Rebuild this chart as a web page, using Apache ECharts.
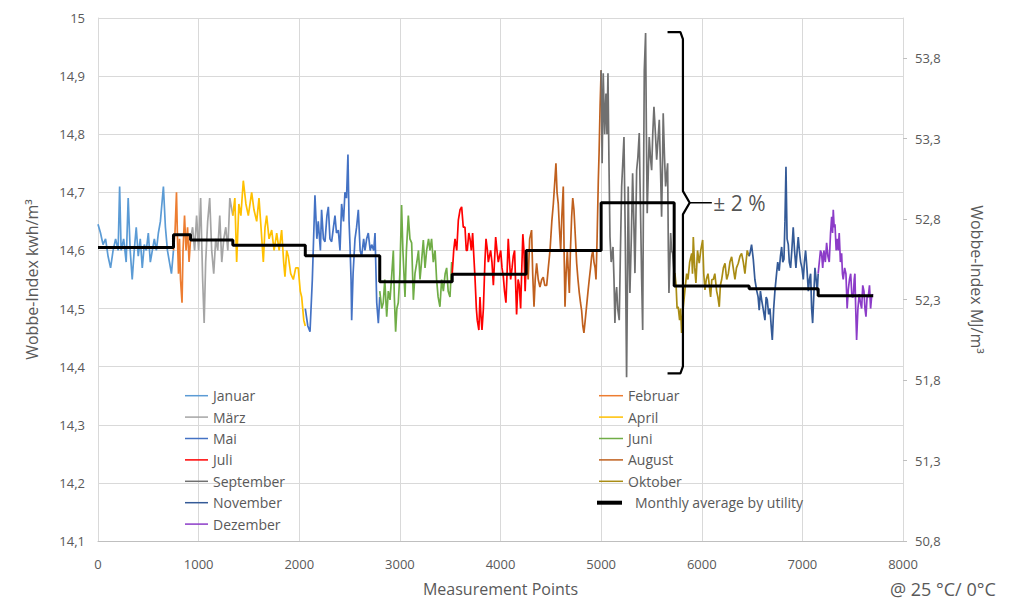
<!DOCTYPE html>
<html>
<head>
<meta charset="utf-8">
<script src="https://cdn.jsdelivr.net/npm/echarts@6/dist/echarts.min.js"></script>
<style>html,body{margin:0;padding:0;background:#fff;}#c{width:1033px;height:605px;}</style>
</head>
<body>
<div id="c"></div>
<script>
// ---- DATA ----
const monthNames = ['Januar','Februar','März','April','Mai','Juni','Juli','August','September','Oktober','November','Dezember'];
const monthColors = ['#5b9bd5','#ed7d31','#a5a5a5','#ffc000','#4472c4','#70ad47','#ff0000','#c0601e','#707070','#a98c14','#345a97','#8c3cc8'];

const jan = [[0,14.645],[25,14.63],[50,14.61],[75,14.62],[100,14.59],[125,14.57],[150,14.6],[175,14.62],[200,14.6],[215,14.71],[230,14.6],[255,14.62],[280,14.58],[300,14.69],[320,14.6],[340,14.55],[360,14.6],[380,14.64],[400,14.59],[420,14.62],[440,14.57],[460,14.61],[480,14.6],[500,14.63],[520,14.58],[540,14.6],[560,14.62],[580,14.6],[600,14.63],[620,14.65],[650,14.71],[670,14.64],[690,14.6],[710,14.58],[730,14.56],[750,14.6]];
const feb = [[750,14.6],[765,14.63],[780,14.7],[790,14.62],[800,14.56],[810,14.62],[820,14.55],[835,14.51],[845,14.6],[860,14.66],[875,14.6],[890,14.64],[905,14.58],[920,14.62]];
const mar = [[920,14.62],[940,14.64],[960,14.6],[980,14.66],[1000,14.6],[1020,14.69],[1040,14.55],[1055,14.475],[1070,14.58],[1090,14.65],[1110,14.69],[1130,14.6],[1150,14.56],[1170,14.62],[1190,14.6],[1210,14.66],[1230,14.58],[1250,14.62],[1270,14.64],[1290,14.6],[1310,14.69],[1340,14.66]];
const apr = [[1340,14.66],[1360,14.69],[1378,14.58],[1400,14.68],[1420,14.66],[1444,14.72],[1470,14.68],[1494,14.66],[1527,14.70],[1550,14.67],[1577,14.65],[1600,14.69],[1620,14.64],[1643,14.58],[1660,14.64],[1676,14.66],[1700,14.62],[1726,14.635],[1750,14.6],[1776,14.63],[1800,14.6],[1825,14.635],[1845,14.58],[1858,14.555],[1875,14.6],[1891,14.59],[1915,14.56],[1941,14.55],[1965,14.57],[1990,14.57],[2010,14.53],[2024,14.52],[2045,14.48],[2060,14.47]];
const mai = [[2060,14.5],[2085,14.47],[2107,14.46],[2130,14.55],[2156,14.695],[2175,14.62],[2189,14.65],[2210,14.6],[2222,14.67],[2240,14.62],[2256,14.615],[2275,14.66],[2289,14.675],[2305,14.62],[2322,14.615],[2340,14.64],[2355,14.66],[2370,14.63],[2388,14.635],[2405,14.6],[2421,14.68],[2440,14.65],[2454,14.70],[2470,14.69],[2484,14.765],[2495,14.65],[2504,14.61],[2515,14.55],[2521,14.48],[2535,14.56],[2554,14.62],[2570,14.64],[2587,14.67],[2605,14.6],[2620,14.59],[2640,14.62],[2653,14.6],[2670,14.62],[2686,14.63],[2705,14.6],[2720,14.61],[2740,14.6],[2753,14.63],[2770,14.51],[2786,14.475],[2800,14.52]];
const jun = [[2800,14.53],[2820,14.5],[2835,14.51],[2850,14.55],[2869,14.486],[2885,14.53],[2902,14.515],[2920,14.56],[2935,14.6],[2945,14.52],[2958,14.46],[2970,14.5],[2984,14.51],[3000,14.56],[3017,14.678],[3030,14.6],[3051,14.52],[3065,14.6],[3084,14.66],[3100,14.62],[3117,14.613],[3134,14.515],[3150,14.56],[3167,14.578],[3185,14.6],[3200,14.55],[3215,14.58],[3233,14.618],[3250,14.57],[3266,14.6],[3285,14.62],[3299,14.6],[3315,14.62],[3332,14.58],[3350,14.6],[3365,14.55],[3380,14.52],[3398,14.503],[3415,14.55],[3432,14.53],[3450,14.56],[3465,14.57],[3480,14.53],[3498,14.52],[3515,14.58]];
const jul = [[3520,14.56],[3535,14.6],[3548,14.62],[3565,14.6],[3581,14.652],[3598,14.67],[3614,14.675],[3630,14.64],[3647,14.64],[3660,14.6],[3670,14.6],[3685,14.63],[3697,14.62],[3710,14.6],[3723,14.63],[3735,14.59],[3746,14.555],[3760,14.5],[3769,14.48],[3785,14.463],[3796,14.52],[3805,14.49],[3816,14.463],[3830,14.5],[3845,14.58],[3856,14.62],[3870,14.6],[3879,14.58],[3890,14.59],[3902,14.6],[3915,14.58],[3929,14.54],[3940,14.58],[3952,14.623],[3965,14.6],[3978,14.58],[3990,14.59],[4002,14.6],[4015,14.57],[4028,14.555],[4040,14.53],[4054,14.51],[4065,14.56],[4077,14.62],[4090,14.58],[4101,14.55],[4115,14.57],[4127,14.59],[4140,14.6],[4160,14.49],[4175,14.55],[4187,14.54],[4200,14.5],[4210,14.56],[4222,14.628],[4233,14.6],[4245,14.53],[4255,14.58]];
const aug = [[4255,14.6],[4275,14.55],[4290,14.62],[4309,14.635],[4320,14.56],[4333,14.503],[4345,14.55],[4359,14.578],[4375,14.55],[4392,14.537],[4410,14.55],[4425,14.554],[4440,14.54],[4459,14.54],[4475,14.57],[4492,14.6],[4510,14.65],[4525,14.68],[4540,14.72],[4551,14.75],[4562,14.7],[4574,14.68],[4585,14.64],[4598,14.6],[4610,14.66],[4624,14.71],[4632,14.6],[4641,14.503],[4652,14.56],[4664,14.6],[4675,14.56],[4684,14.527],[4695,14.6],[4707,14.658],[4718,14.69],[4730,14.67],[4745,14.62],[4757,14.578],[4770,14.55],[4783,14.527],[4795,14.51],[4806,14.497],[4818,14.47],[4829,14.458],[4842,14.48],[4856,14.505],[4870,14.53],[4882,14.55],[4895,14.57],[4906,14.59],[4918,14.6],[4929,14.58],[4940,14.57],[4949,14.55],[4960,14.62],[4972,14.72],[4980,14.77],[4990,14.85],[5000,14.91]];
const sep = [[5000,14.91],[5010,14.75],[5021,14.905],[5035,14.8],[5048,14.87],[5058,14.8],[5068,14.905],[5078,14.75],[5088,14.623],[5100,14.58],[5118,14.606],[5128,14.55],[5137,14.475],[5145,14.52],[5154,14.537],[5165,14.5],[5180,14.48],[5192,14.6],[5204,14.71],[5215,14.75],[5227,14.795],[5240,14.623],[5253,14.382],[5262,14.55],[5269,14.71],[5278,14.6],[5286,14.527],[5300,14.62],[5313,14.733],[5325,14.65],[5336,14.561],[5345,14.65],[5353,14.738],[5365,14.76],[5379,14.802],[5386,14.72],[5393,14.652],[5403,14.55],[5413,14.463],[5421,14.7],[5429,14.91],[5442,14.974],[5450,14.8],[5458,14.664],[5468,14.73],[5478,14.795],[5490,14.76],[5502,14.738],[5513,14.8],[5525,14.847],[5540,14.8],[5552,14.756],[5565,14.79],[5578,14.825],[5590,14.74],[5601,14.658],[5610,14.75],[5617,14.836],[5630,14.76],[5641,14.71],[5651,14.73],[5661,14.75],[5668,14.6],[5674,14.527],[5683,14.58],[5691,14.63],[5700,14.6],[5711,14.595],[5726,14.56]];
const okt = [[5726,14.56],[5733,14.561],[5745,14.54],[5755,14.5],[5766,14.503],[5780,14.48],[5790,14.5],[5800,14.458],[5815,14.5],[5833,14.532],[5850,14.56],[5863,14.55],[5880,14.58],[5900,14.595],[5908,14.56],[5916,14.623],[5930,14.57],[5942,14.544],[5958,14.6],[5975,14.578],[5990,14.6],[6009,14.618],[6020,14.56],[6032,14.532],[6045,14.55],[6062,14.56],[6075,14.54],[6088,14.52],[6100,14.55],[6115,14.55],[6130,14.56],[6148,14.53],[6160,14.52],[6174,14.503],[6185,14.54],[6198,14.55],[6215,14.57],[6231,14.578],[6248,14.55],[6264,14.56],[6280,14.58],[6297,14.589],[6313,14.57],[6330,14.55],[6345,14.57],[6363,14.578],[6380,14.59],[6396,14.595],[6413,14.58],[6429,14.56],[6440,14.58],[6452,14.6],[6471,14.59]];
const nov = [[6471,14.59],[6479,14.595],[6495,14.61],[6512,14.585],[6528,14.55],[6545,14.532],[6560,14.52],[6571,14.497],[6583,14.53],[6595,14.515],[6610,14.5],[6628,14.48],[6640,14.52],[6651,14.515],[6665,14.49],[6678,14.5],[6690,14.47],[6701,14.446],[6715,14.5],[6727,14.53],[6744,14.561],[6755,14.58],[6770,14.565],[6782,14.59],[6794,14.606],[6805,14.58],[6817,14.585],[6827,14.65],[6837,14.744],[6848,14.62],[6860,14.61],[6870,14.58],[6883,14.57],[6895,14.6],[6909,14.64],[6922,14.6],[6936,14.57],[6948,14.6],[6959,14.623],[6970,14.6],[6983,14.58],[6996,14.57],[7009,14.55],[7020,14.58],[7032,14.6],[7045,14.57],[7059,14.53],[7070,14.55],[7082,14.56],[7092,14.5],[7102,14.475],[7113,14.52],[7125,14.57],[7137,14.55],[7148,14.53],[7157,14.56]];
const dez = [[7157,14.56],[7167,14.578],[7180,14.6],[7191,14.595],[7202,14.57],[7214,14.6],[7228,14.58],[7241,14.613],[7254,14.59],[7267,14.58],[7280,14.63],[7291,14.658],[7300,14.63],[7307,14.67],[7316,14.64],[7324,14.645],[7336,14.6],[7347,14.62],[7356,14.6],[7366,14.63],[7378,14.58],[7390,14.595],[7398,14.56],[7406,14.55],[7420,14.57],[7433,14.56],[7445,14.5],[7456,14.532],[7468,14.55],[7480,14.56],[7493,14.52],[7506,14.52],[7515,14.55],[7522,14.56],[7530,14.5],[7539,14.446],[7552,14.5],[7565,14.525],[7577,14.51],[7589,14.5],[7600,14.54],[7612,14.53],[7622,14.5],[7632,14.486],[7643,14.52],[7655,14.52],[7667,14.54],[7678,14.5],[7688,14.52],[7698,14.525]];
const monthData = [jan,feb,mar,apr,mai,jun,jul,aug,sep,okt,nov,dez];

// monthly average by utility: start point of each month and its level
const avgStarts = [0,750,920,1340,2060,2800,3520,4255,5000,5726,6471,7157];
const avgEnd = 7704;
const avgValues = [14.605,14.627,14.618,14.609,14.591,14.546,14.559,14.600,14.682,14.539,14.534,14.522];
const avgName = 'Monthly average by utility';

// ±2 % band around the September average
const bandPct = 0.02;
const bandMonth = 8;
const bracketX = 5813, bracketHookX = 5660, bracketTipX = 5880, bracketLabelX = 6110;

const xTicks = {min:0, max:8000, interval:1000};
const yLeft = {min:14.1, max:15, interval:0.1};
const yRight = {min:50.8, max:54.05, interval:0.5};

// ---- CHART ----
const fmt = v => String(Math.round(v*10)/10).replace('.', ',');
const FONT = '"Open Sans", "Noto Sans", sans-serif';
const TXT = '#595959';

const series = monthNames.map((n,i)=>({
  name:n, type:'line', data:monthData[i], showSymbol:false, symbol:'none',
  color:monthColors[i], lineStyle:{width:1.7, color:monthColors[i]}, z:2, animation:false
}));
const avgData = avgStarts.map((s,i)=>[s,avgValues[i]]).concat([[avgEnd, avgValues[avgValues.length-1]]]);
series.push({name:avgName, type:'line', step:'end', data:avgData, symbol:'none', showSymbol:false,
  color:'#000', lineStyle:{width:3, color:'#000'}, z:5, animation:false});

const bandMid = avgValues[bandMonth], bandTop = bandMid*(1+bandPct), bandBot = bandMid*(1-bandPct);
series.push({name:'bracket', type:'line', symbol:'none', showSymbol:false, z:6, animation:false, silent:true,
  lineStyle:{width:2.2, color:'#000'}, color:'#000',
  data:[[bracketHookX,bandTop],[bracketX-25,bandTop],[bracketX,bandTop-0.012],[bracketX,bandMid+0.02],[bracketTipX,bandMid],[bracketX,bandMid-0.02],[bracketX,bandBot+0.012],[bracketX-25,bandBot],[bracketHookX,bandBot]]});
series.push({name:'tick', type:'line', symbol:'none', z:6, animation:false, silent:true,
  lineStyle:{width:1.5, color:'#000'}, color:'#000', data:[[bracketTipX,bandMid],[bracketLabelX-10,bandMid]]});
series.push({name:'label', type:'scatter', symbolSize:1, itemStyle:{color:'rgba(0,0,0,0)'}, z:6, animation:false, silent:true,
  data:[[bracketLabelX,bandMid]],
  label:{show:true, position:'right', distance:0, formatter:'± 2 %', fontSize:21, color:'#262626', fontFamily:FONT}});

const leftNames = ['Januar','März','Mai','Juli','September','November','Dezember'];
const rightNames = ['Februar','April','Juni','August','Oktober'];
const legendCommon = {orient:'vertical', icon:'rect', itemGap:0, selectedMode:false,
  textStyle:{fontSize:14, color:TXT, fontFamily:FONT, lineHeight:21.4}};

const chart = echarts.init(document.getElementById('c'), null, {renderer:'svg'});
chart.setOption({
  backgroundColor:'#fff',
  animation:false,
  textStyle:{fontFamily:FONT},
  grid:{left:98, right:130, top:18, bottom:64, containLabel:false},
  legend:[
    Object.assign({}, legendCommon, {data:leftNames, left:180, top:380, itemWidth:23, itemHeight:1.5}),
    Object.assign({}, legendCommon, {data:rightNames, left:594, top:380, itemWidth:24, itemHeight:1.5}),
    Object.assign({}, legendCommon, {data:[avgName], left:592, top:487, itemWidth:25, itemHeight:4,
      textStyle:{fontSize:14, color:TXT, fontFamily:FONT, lineHeight:21.4, padding:[0,0,0,8]}})
  ],
  xAxis:{type:'value', min:xTicks.min, max:xTicks.max, interval:xTicks.interval,
    name:'Measurement Points', nameLocation:'middle', nameGap:40,
    nameTextStyle:{fontSize:16, color:TXT, fontFamily:FONT},
    axisLine:{show:true, lineStyle:{color:'#bfbfbf'}}, axisTick:{show:false},
    axisLabel:{color:TXT, fontSize:13, margin:16, fontFamily:FONT, formatter:v=>String(v)},
    splitLine:{show:true, lineStyle:{color:'#d9d9d9'}}},
  yAxis:[
    {type:'value', position:'left', min:yLeft.min, max:yLeft.max, interval:yLeft.interval,
      name:'Wobbe-Index kwh/m³', nameLocation:'middle', nameGap:58, nameRotate:90,
      nameTextStyle:{fontSize:16, color:TXT, fontFamily:FONT},
      axisLine:{show:true, lineStyle:{color:'#d9d9d9'}}, axisTick:{show:false},
      axisLabel:{color:TXT, fontSize:13, margin:13, formatter:fmt, fontFamily:FONT},
      splitLine:{show:true, lineStyle:{color:'#d9d9d9'}}},
    {type:'value', position:'right', min:yRight.min, max:yRight.max, interval:yRight.interval,
      name:'Wobbe-Index MJ/m³', nameLocation:'middle', nameGap:66, nameRotate:-90,
      nameTextStyle:{fontSize:16, color:TXT, fontFamily:FONT},
      axisLine:{show:true, lineStyle:{color:'#d9d9d9'}},
      axisTick:{show:true, length:4, inside:false, lineStyle:{color:'#bfbfbf'}},
      axisLabel:{color:TXT, fontSize:13, margin:12, formatter:fmt, showMaxLabel:false, fontFamily:FONT},
      splitLine:{show:false}}
  ],
  graphic:[{type:'text', left:890, top:580, style:{text:'@ 25 °C/ 0°C', fontSize:18, fill:TXT, fontFamily:FONT}}],
  series:series
});
</script>
</body>
</html>
